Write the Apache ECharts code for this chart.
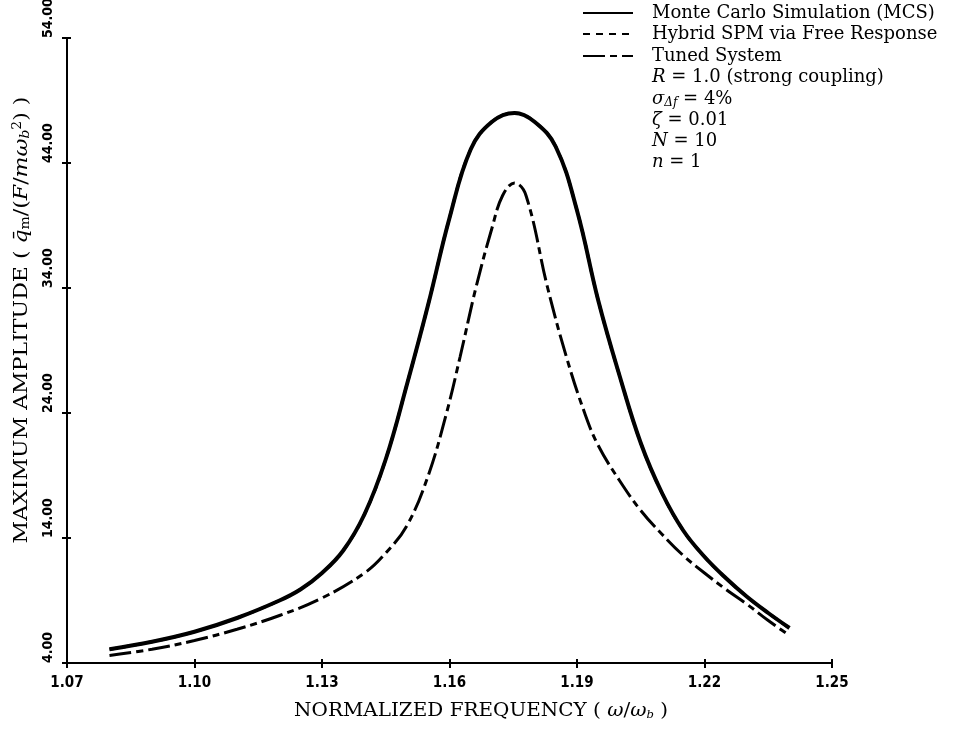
<!DOCTYPE html>
<html>
<head>
<meta charset="utf-8">
<script src="https://cdn.jsdelivr.net/npm/echarts@6/dist/echarts.min.js"></script>
<style>
  html, body { margin: 0; padding: 0; background: #fff; }
  #chart { width: 954px; height: 729px; }
</style>
</head>
<body>
<div id="chart"></div>
<script>
// Normalized frequency (omega / omega_b) and maximum amplitude readings
const freqMCS = [1.080, 1.090, 1.100, 1.110, 1.120, 1.125, 1.130, 1.135, 1.140, 1.145, 1.150, 1.155, 1.160, 1.165, 1.170, 1.1753, 1.180, 1.185, 1.190, 1.195, 1.200, 1.205, 1.210, 1.215, 1.220, 1.225, 1.230, 1.235, 1.240];
const ampMCS  = [5.1, 5.7, 6.5, 7.6, 9.0, 9.9, 11.2, 13.0, 15.9, 20.3, 26.3, 32.7, 39.6, 45.1, 47.3, 48.0, 47.3, 45.3, 40.2, 33.0, 27.0, 21.6, 17.6, 14.6, 12.5, 10.8, 9.3, 8.0, 6.8];

// Hybrid SPM (free response) coincides with the simulation curve
const freqSPM = freqMCS.slice();
const ampSPM  = ampMCS.slice();

const freqTuned = [1.080, 1.090, 1.100, 1.110, 1.120, 1.130, 1.140, 1.145, 1.150, 1.155, 1.1593, 1.1625, 1.1662, 1.170, 1.1725, 1.1753, 1.178, 1.1831, 1.1875, 1.1918, 1.195, 1.200, 1.205, 1.210, 1.215, 1.220, 1.225, 1.230, 1.235, 1.240];
const ampTuned  = [4.6, 5.1, 5.8, 6.7, 7.8, 9.2, 11.2, 12.8, 15.0, 19.0, 24.0, 28.5, 34.0, 38.8, 41.4, 42.4, 41.4, 34.0, 28.5, 24.0, 21.4, 18.6, 16.2, 14.3, 12.6, 11.2, 9.9, 8.7, 7.4, 6.2];

const xTicks = [1.07, 1.10, 1.13, 1.16, 1.19, 1.22, 1.25];
const yTicks = [4, 14, 24, 34, 44, 54];

const legendNames = ['Monte Carlo Simulation (MCS)', 'Hybrid SPM via Free Response', 'Tuned System'];

const pairs = (xs, ys) => xs.map((x, i) => [x, ys[i]]);

const tickFont = "'Liberation Sans Narrow', 'DejaVu Sans Condensed', sans-serif";
const serif = "'DejaVu Serif', 'Liberation Serif', serif";

const chart = echarts.init(document.getElementById('chart'), null, { renderer: 'canvas' });

const axisLineStyle = { color: '#000', width: 2 };

// Legend rows drawn as graphic elements (line sample + label)
const legendX0 = 583, legendX1 = 633, textX = 652;
const rowY = [15, 36, 58, 79, 101, 122, 143, 164];
const dashes = [null, [7, 6], [22, 5, 7, 5]];

const graphics = [];
for (let i = 0; i < 3; i++) {
  graphics.push({
    type: 'line',
    shape: { x1: legendX0, y1: rowY[i] - 2, x2: legendX1, y2: rowY[i] - 2 },
    style: { stroke: '#000', lineWidth: 2, lineDash: dashes[i] }
  });
  graphics.push({
    type: 'text', left: textX, top: rowY[i] - 11,
    style: { text: legendNames[i], font: '18px ' + serif, fill: '#000' }
  });
}

const paramRows = [
  '{i|R} = 1.0 (strong coupling)',
  '{i|σ}{sub|Δf} = 4%',
  '{i|ζ} = 0.01',
  '{i|N} = 10',
  '{i|n} = 1'
];
paramRows.forEach((t, k) => {
  graphics.push({
    type: 'text', left: textX, top: rowY[k + 3] - 11,
    style: {
      text: t, font: '18px ' + serif, fill: '#000',
      rich: {
        i: { fontFamily: serif, fontSize: 18, fontStyle: 'italic' },
        sub: { fontFamily: serif, fontSize: 12, fontStyle: 'italic', verticalAlign: 'bottom', padding: [8, 0, 0, 0] }
      }
    }
  });
});

// Axis titles
graphics.push({
  type: 'text', x: 481, y: 711, scaleX: 1.05,
  style: {
    text: 'NORMALIZED FREQUENCY ( {i|ω}/{i|ω}{sub|b} )',
    font: '19px ' + serif, fill: '#000', align: 'center', verticalAlign: 'middle',
    rich: {
      i: { fontFamily: serif, fontSize: 19, fontStyle: 'italic' },
      sub: { fontFamily: serif, fontSize: 11, fontStyle: 'italic', verticalAlign: 'bottom', padding: [8, 0, 0, 0] }
    }
  }
});
graphics.push({
  type: 'text', x: 22, y: 320, rotation: Math.PI / 2, scaleX: 1.16,
  style: {
    text: 'MAXIMUM AMPLITUDE ( {i|q̄}{sub|m}/({i|F}/{i|mω}{supsub|b}{sup|2}) )',
    font: '19px ' + serif, fill: '#000', align: 'center', verticalAlign: 'middle',
    rich: {
      i: { fontFamily: serif, fontSize: 19, fontStyle: 'italic' },
      sub: { fontFamily: serif, fontSize: 12, verticalAlign: 'bottom', padding: [8, 0, 0, 0] },
      supsub: { fontFamily: serif, fontSize: 12, fontStyle: 'italic', verticalAlign: 'bottom', padding: [8, 0, 0, 0] },
      sup: { fontFamily: serif, fontSize: 12, verticalAlign: 'top', padding: [0, 0, 8, 0] }
    }
  }
});

const option = {
  animation: false,
  backgroundColor: '#fff',
  grid: { left: 67, right: 122, top: 38, bottom: 66, containLabel: false, outerBoundsMode: 'none' },
  xAxis: [
    {
      type: 'value', min: 1.07, max: 1.25,
      axisLine: { lineStyle: axisLineStyle },
      axisTick: { show: true, length: 5, lineStyle: { color: '#000', width: 2 }, customValues: xTicks },
      axisLabel: {
        customValues: xTicks, margin: 13, color: '#000',
        fontFamily: tickFont, fontWeight: 'bold', fontSize: 15,
        formatter: v => v.toFixed(2)
      },
      splitLine: { show: false }
    },
    {
      type: 'value', min: 1.07, max: 1.25, position: 'bottom',
      axisLine: { show: false },
      axisTick: { show: true, inside: true, length: 4, lineStyle: { color: '#000', width: 2 }, customValues: xTicks },
      axisLabel: { show: false },
      splitLine: { show: false }
    }
  ],
  yAxis: [
    {
      type: 'value', min: 4, max: 54,
      axisLine: { show: true, lineStyle: axisLineStyle },
      axisTick: { show: true, length: 5, lineStyle: { color: '#000', width: 2 }, customValues: yTicks },
      axisLabel: {
        customValues: yTicks, margin: 12, color: '#000', rotate: 90,
        align: 'left', verticalAlign: 'bottom',
        fontFamily: tickFont, fontWeight: 'bold', fontSize: 14,
        formatter: v => v.toFixed(2)
      },
      splitLine: { show: false }
    },
    {
      type: 'value', min: 4, max: 54, position: 'left',
      axisLine: { show: false },
      axisTick: { show: true, inside: true, length: 4, lineStyle: { color: '#000', width: 2 }, customValues: yTicks },
      axisLabel: { show: false },
      splitLine: { show: false }
    }
  ],
  series: [
    {
      name: legendNames[1], type: 'line', data: pairs(freqSPM, ampSPM),
      showSymbol: false, smooth: 0.4, z: 2,
      lineStyle: { color: '#000', width: 3, type: [7, 6] }
    },
    {
      name: legendNames[0], type: 'line', data: pairs(freqMCS, ampMCS),
      showSymbol: false, smooth: 0.4, z: 3,
      lineStyle: { color: '#000', width: 4 }
    },
    {
      name: legendNames[2], type: 'line', data: pairs(freqTuned, ampTuned),
      showSymbol: false, smooth: 0.4, z: 3,
      lineStyle: { color: '#000', width: 3, type: [22, 5, 7, 5] }
    }
  ],
  graphic: graphics
};

chart.setOption(option);
</script>
</body>
</html>
